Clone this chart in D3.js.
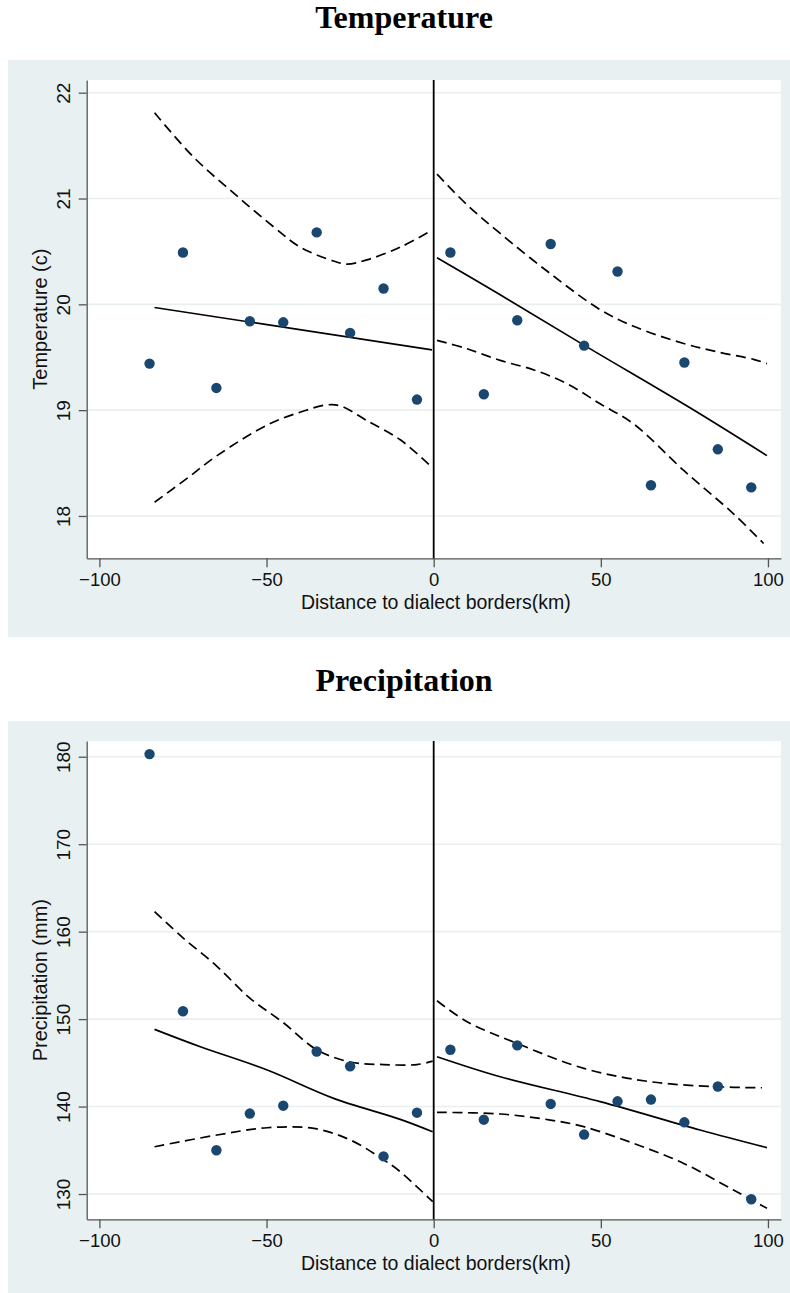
<!DOCTYPE html>
<html>
<head>
<meta charset="utf-8">
<script src="https://cdn.jsdelivr.net/npm/d3@7/dist/d3.min.js"></script>
<style>
  html, body { margin: 0; padding: 0; background: #fff; }
  svg { display: block; }
</style>
</head>
<body>
<div id="chart"></div>
<script>
// Bin midpoints (km from the dialect border) and bin means
const distance = [-85, -75, -65, -55, -45, -35, -25, -15, -5, 5, 15, 25, 35, 45, 55, 65, 75, 85, 95];
const temperature = [19.44, 20.49, 19.21, 19.84, 19.83, 20.68, 19.73, 20.15, 19.10,
                     20.49, 19.15, 19.85, 20.57, 19.61, 20.31, 18.29, 19.45, 18.63, 18.27];
const precipitation = [180.3, 150.9, 135.0, 139.2, 140.1, 146.3, 144.6, 134.3, 139.3,
                       146.5, 138.5, 147.0, 140.3, 136.8, 140.6, 140.8, 138.2, 142.3, 129.4];

// Fitted lines and confidence bands, left and right of the border: [distance, value]
const tempFitLeft   = [[-83.5, 19.97], [-0.5, 19.57]];
const tempUpperLeft = [[-83.5, 21.81], [-71.8, 21.39], [-59.8, 21.05], [-47.8, 20.73], [-39.9, 20.54],
                       [-30, 20.41], [-25.9, 20.38], [-20, 20.42], [-10, 20.54], [-0.5, 20.70]];
const tempLowerLeft = [[-83.5, 18.13], [-74, 18.35], [-64.8, 18.57], [-49.8, 18.86], [-40, 18.98],
                       [-31.9, 19.05], [-27.9, 19.04], [-19.9, 18.90], [-10, 18.72], [-0.5, 18.46]];
const tempFitRight   = [[1, 20.44], [19.9, 20.09], [45.2, 19.61], [76.8, 19.02], [99.7, 18.57]];
const tempUpperRight = [[1, 21.23], [10, 20.94], [19.9, 20.67], [34.9, 20.29], [49.8, 19.95],
                        [60, 19.79], [74.8, 19.63], [85, 19.55], [95.7, 19.48], [99.7, 19.44]];
const tempLowerRight = [[1, 19.66], [10, 19.58], [19.9, 19.47], [30, 19.38], [39.9, 19.25],
                        [49.8, 19.06], [59.8, 18.87], [74.8, 18.43], [89.7, 18.02], [98.7, 17.74]];

const precFitLeft   = [[-83.5, 148.83], [-69.8, 146.84], [-49.8, 144.18], [-29.9, 140.94], [-10, 138.54], [-0.3, 137.12]];
const precUpperLeft = [[-83.5, 162.3], [-75, 159.3], [-65, 156.1], [-55, 152.4], [-45, 149.6], [-35, 146.5],
                       [-25, 145.1], [-15, 144.8], [-5, 144.8], [-0.3, 145.2]];
const precLowerLeft = [[-83.5, 135.41], [-64.8, 136.75], [-49.8, 137.58], [-35.9, 137.51], [-24.9, 136.17],
                       [-14.9, 133.89], [-10, 132.55], [-0.3, 129.12]];
const precFitRight   = [[1, 145.70], [19.9, 143.41], [49.8, 140.56], [79.7, 137.32], [99.7, 135.30]];
const precUpperRight = [[1, 152.1], [10, 149.7], [24.9, 147.23], [44.9, 144.37], [64.8, 142.84],
                        [84.7, 142.27], [98.2, 142.15]];
const precLowerRight = [[1, 139.34], [19.9, 139.15], [34.9, 138.46], [44.9, 137.70], [59.8, 135.79],
                        [74.8, 133.5], [89.7, 130.45], [99.7, 128.36]];

// Axis ticks
const xTicks = [-100, -50, 0, 50, 100];
const tempTicks = [18, 19, 20, 21, 22];
const precTicks = [130, 140, 150, 160, 170, 180];

const W = 790, H = 1293;
const svg = d3.select("#chart").append("svg").attr("width", W).attr("height", H);

const plot = { left: 86.7, right: 781, top: 80, bottom: 558.3 };
const sans = "'Liberation Sans', Arial, sans-serif";

function panel(cfg) {
  const g = svg.append("g").attr("transform", `translate(0,${cfg.offset})`);

  // title above the panel
  g.append("text")
    .attr("x", 404).attr("y", cfg.titleY)
    .attr("text-anchor", "middle")
    .style("font-family", "'Liberation Serif', 'Times New Roman', serif")
    .style("font-weight", "bold").style("font-size", "32px")
    .attr("fill", "#000")
    .text(cfg.title);

  // graph background and plot region
  g.append("rect").attr("x", 8).attr("y", 60).attr("width", 782).attr("height", 577).attr("fill", "#e8f0f2");
  g.append("rect").attr("x", plot.left).attr("y", plot.top)
    .attr("width", plot.right - plot.left).attr("height", plot.bottom - plot.top).attr("fill", "#fff");

  const x = d3.scaleLinear().domain([-103.8, 103.9]).range([plot.left, plot.right]);
  const y = d3.scaleLinear().domain(cfg.yDomain).range([plot.bottom, plot.top]);

  // horizontal grid lines
  g.append("g").selectAll("line").data(cfg.yTicks).join("line")
    .attr("x1", plot.left).attr("x2", plot.right)
    .attr("y1", d => y(d)).attr("y2", d => y(d))
    .attr("stroke", "#e9eef0").attr("stroke-width", 1.6);

  // y axis
  const ya = g.append("g").attr("transform", `translate(${plot.left},0)`)
    .call(d3.axisLeft(y).tickValues(cfg.yTicks).tickFormat(d3.format("d")).tickSize(8).tickSizeOuter(0));
  ya.select(".domain").attr("stroke", "#555").attr("stroke-width", 1.3);
  ya.selectAll(".tick line").attr("stroke", "#555").attr("stroke-width", 1.3);
  ya.selectAll(".tick text")
    .attr("x", null).attr("dy", null)
    .attr("transform", "translate(-16.7,0) rotate(-90)")
    .attr("text-anchor", "middle")
    .style("font-family", sans).style("font-size", "19px")
    .attr("fill", "#111");

  // x axis
  const xa = g.append("g").attr("transform", `translate(0,${plot.bottom})`)
    .call(d3.axisBottom(x).tickValues(xTicks).tickFormat(d3.format("d")).tickSize(9).tickSizeOuter(0));
  xa.select(".domain").attr("stroke", "#555").attr("stroke-width", 1.3);
  xa.selectAll(".tick line").attr("stroke", "#555").attr("stroke-width", 1.3);
  xa.selectAll(".tick text")
    .attr("y", 27.7).attr("dy", null)
    .style("font-family", sans).style("font-size", "18.5px")
    .attr("fill", "#111");

  // axis titles
  g.append("text")
    .attr("x", (plot.left + plot.right) / 2 + 2).attr("y", 608.5)
    .attr("text-anchor", "middle")
    .style("font-family", sans).style("font-size", "19.5px")
    .attr("fill", "#111")
    .text("Distance to dialect borders(km)");
  g.append("text")
    .attr("transform", `translate(47,${(plot.top + plot.bottom) / 2}) rotate(-90)`)
    .attr("text-anchor", "middle")
    .style("font-family", sans).style("font-size", "20px")
    .attr("fill", "#111")
    .text(cfg.yLabel);

  // border at distance 0
  g.append("line")
    .attr("x1", x(0)).attr("x2", x(0)).attr("y1", plot.top).attr("y2", plot.bottom)
    .attr("stroke", "#000").attr("stroke-width", 1.8);

  const line = d3.line().x(d => x(d[0])).y(d => y(d[1])).curve(d3.curveCatmullRom.alpha(0.5));

  cfg.fits.forEach(f => {
    g.append("path").datum(f).attr("d", line)
      .attr("fill", "none").attr("stroke", "#000").attr("stroke-width", 1.7);
  });
  cfg.bands.forEach(f => {
    g.append("path").datum(f).attr("d", line)
      .attr("fill", "none").attr("stroke", "#000").attr("stroke-width", 1.7)
      .attr("stroke-dasharray", "10,5.5");
  });

  // bin means
  g.append("g").selectAll("circle").data(distance).join("circle")
    .attr("cx", d => x(d))
    .attr("cy", (d, i) => y(cfg.values[i]))
    .attr("r", 5.2)
    .attr("fill", "#1a476f");
}

panel({
  offset: 0, titleY: 28, title: "Temperature", yLabel: "Temperature (c)",
  yDomain: [17.6, 22.12], yTicks: tempTicks, values: temperature,
  fits: [tempFitLeft, tempFitRight],
  bands: [tempUpperLeft, tempLowerLeft, tempUpperRight, tempLowerRight]
});

panel({
  offset: 661, titleY: 29.5, title: "Precipitation", yLabel: "Precipitation (mm)",
  yDomain: [127.11, 181.8], yTicks: precTicks, values: precipitation,
  fits: [precFitLeft, precFitRight],
  bands: [precUpperLeft, precLowerLeft, precUpperRight, precLowerRight]
});
</script>
</body>
</html>
